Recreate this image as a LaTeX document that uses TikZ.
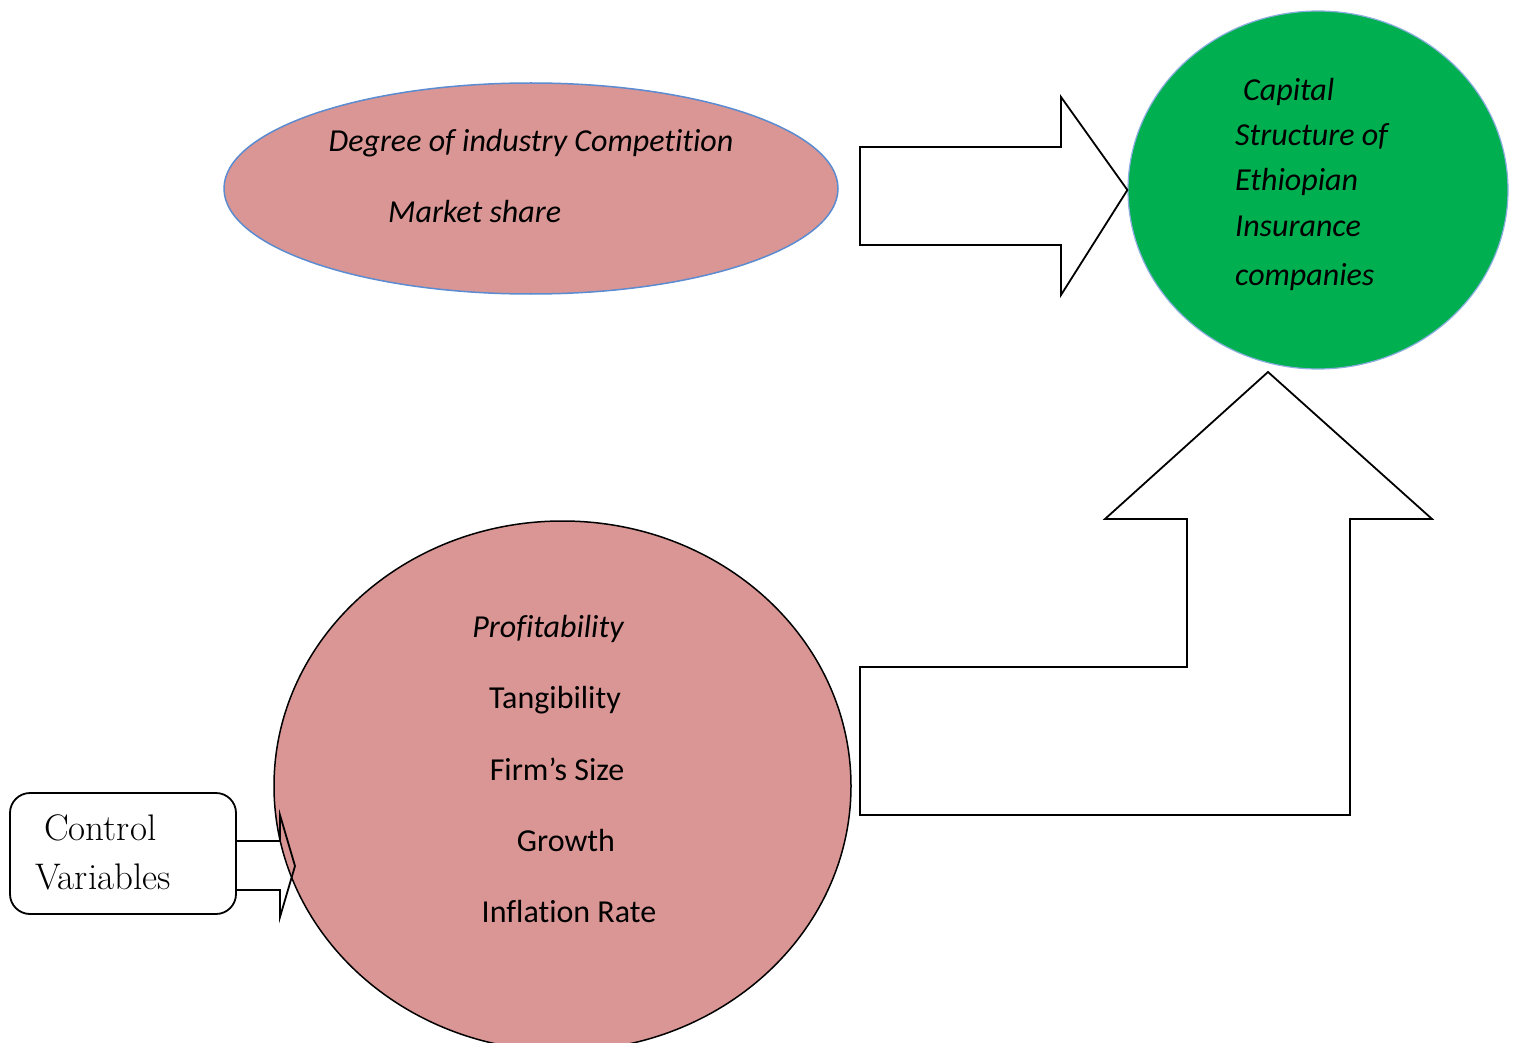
\documentclass[tikz,border=0pt]{standalone}
\usepackage{fontspec}
\setmainfont{Carlito}[Ligatures=NoCommon]
\newfontfamily\lmserif{Latin Modern Roman}
\usetikzlibrary{shapes.geometric}
\definecolor{rose}{HTML}{D99694}
\definecolor{grn}{HTML}{00B050}
\definecolor{edgeblue}{HTML}{5B8BD0}
\begin{document}
\begin{tikzpicture}[x=1pt,y=-1pt,
  txt/.style={font=\fontsize{32}{36}\selectfont, inner sep=0pt, text=black},
  itxt/.style={txt, font=\fontsize{32}{36}\selectfont\itshape},
  blockarrow/.style={draw=black, line width=1.8pt, fill=white, line join=miter},
  ]
\useasboundingbox (0,0) rectangle (1516,1043);
% top ellipse
\node[ellipse, draw=edgeblue, line width=1.5pt, fill=rose, minimum width=614pt, minimum height=211pt, inner sep=0pt] (comp) at (531,188.5) {};
\node[itxt, anchor=base] (t1) at (531,152) {Degree of industry Competition};
\node[itxt, anchor=base west] (t2) at (388,223) {Market share};
% green circle
\node[ellipse, draw=edgeblue!70, line width=1.2pt, fill=grn, minimum width=380pt, minimum height=358pt, inner sep=0pt] (cap) at (1318,190) {};
\node[itxt, anchor=base west] (c1) at (1243,101) {Capital};
\node[itxt, anchor=base west] (c2) at (1235,146) {Structure of};
\node[itxt, anchor=base west] (c3) at (1235,191) {Ethiopian};
\node[itxt, anchor=base west] (c4) at (1235,237) {Insurance};
\node[itxt, anchor=base west] (c5) at (1235,286) {companies};
% right block arrow
\coordinate (ra) at (cap.west);
\draw[blockarrow] (860,147) -- (1061,147) -- (1061,97) -- (ra) -- (1061,295) -- (1061,245) -- (860,245) -- cycle;
% bent up arrow
\coordinate (ua) at (1268,372);
\draw[blockarrow] (860,667) -- (1187,667) -- (1187,519) -- (1105,519) -- (ua) -- (1432,519) -- (1350,519) -- (1350,815) -- (860,815) -- cycle;
% bottom ellipse
\node[ellipse, draw=black, line width=1.5pt, fill=rose, minimum width=577pt, minimum height=530pt, inner sep=0pt] (ctrl) at (562.5,786) {};
\node[itxt, anchor=base] (b1) at (548,637) {Profitability};
\node[txt, anchor=base] (b2) at (555,708) {Tangibility};
\node[txt, anchor=base] (b3) at (557,780) {Firm’s Size};
\node[txt, anchor=base] (b4) at (566,851) {Growth};
\node[txt, anchor=base] (b5) at (569,922) {Inflation Rate};
% control box
\node[draw=black, line width=1.8pt, rounded corners=20pt, fill=white, minimum width=226pt, minimum height=121pt, inner sep=0pt] (cv) at (123,853.5) {};
\node[anchor=base west, inner sep=0pt, font=\lmserif\fontsize{37}{40}\selectfont] (cv1) at (44,840) {Control};
\node[anchor=base west, inner sep=0pt, font=\lmserif\fontsize{37}{40}\selectfont] (cv2) at (35,889) {Variables};
% small arrow
\coordinate (sa) at (295,866);
\draw[draw=black, line width=1.8pt, line join=miter] (cv.east |- 0,841) -- (280,841) -- (280,815) -- (sa) -- (280,917) -- (280,890) -- (cv.east |- 0,890);
\end{tikzpicture}
\end{document}
